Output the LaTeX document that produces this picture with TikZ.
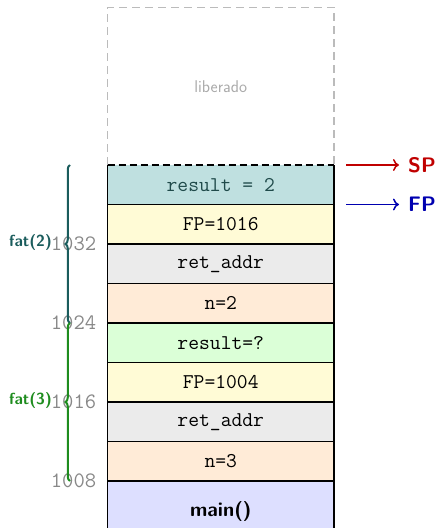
\documentclass[tikz,border=0pt]{standalone}
\usepackage{fontspec}
\usetikzlibrary{arrows.meta,decorations.pathreplacing}

\definecolor{resfill}{HTML}{BFE0E0}
\definecolor{restext}{HTML}{1F4A4A}
\definecolor{fpfill}{HTML}{FFFBD6}
\definecolor{retfill}{HTML}{EBEBEB}
\definecolor{nfill}{HTML}{FFEBD7}
\definecolor{qfill}{HTML}{DBFFD7}
\definecolor{mainfill}{HTML}{DDDFFF}
\definecolor{freedgray}{HTML}{BBBBBB}
\definecolor{freedtext}{HTML}{AAAAAA}
\definecolor{addrgray}{HTML}{888888}
\definecolor{fattwo}{HTML}{1A5C5C}
\definecolor{fatthree}{HTML}{1E8C1E}
\definecolor{spred}{HTML}{C00000}
\definecolor{fpblue}{HTML}{0000B0}

\tikzset{
  cell/.style={rectangle, minimum width=226.5pt, minimum height=39.5pt,
    inner sep=0pt, outer sep=0pt, anchor=north west, line width=1.5pt,
    font=\fontsize{21}{24}\selectfont\ttfamily},
  addr/.style={font=\fontsize{22}{24}\selectfont\ttfamily, text=addrgray, inner sep=0pt},
  fatlabel/.style={font=\fontsize{16}{18}\selectfont\sffamily\bfseries, inner sep=0pt},
  framebrace/.style={decorate, decoration={brace, amplitude=4.5pt}, line width=2pt},
  ptrarrow/.style={line width=1.5pt, -{Computer Modern Rightarrow[length=6pt,width=12pt]}},
  ptrlabel/.style={font=\fontsize{21}{24}\selectfont\sffamily\bfseries, inner sep=0pt, anchor=west},
}

\begin{document}
\begin{tikzpicture}[x=1pt,y=1pt]
\useasboundingbox (0,0) rectangle (436,528);
\clip (0,0) rectangle (436,528);

% released area above the stack pointer
\draw[freedgray, line width=1.5pt, dash pattern=on 8pt off 5pt]
  (107.5,363) -- (107.5,520.5) -- (334,520.5) -- (334,363);
\node[font=\fontsize{17}{19}\selectfont\sffamily, text=freedtext] (freed) at (220.75,441.5) {liberado};

% stack cells, top to bottom
\node[cell, fill=resfill, text=restext] (c1) at (107.5,363) {result = 2};
\draw[line width=1.5pt] (c1.north west) -- (c1.south west) -- (c1.south east) -- (c1.north east);
\draw[line width=1.5pt, dash pattern=on 7pt off 4pt] (c1.north west) -- (c1.north east);
\node[cell, draw, fill=fpfill]  (c2) at (c1.south west) {FP=1016};
\node[cell, draw, fill=retfill] (c3) at (c2.south west) {ret\_addr};
\node[cell, draw, fill=nfill]   (c4) at (c3.south west) {n=2};
\node[cell, draw, fill=qfill]   (c5) at (c4.south west) {result=?};
\node[cell, draw, fill=fpfill]  (c6) at (c5.south west) {FP=1004};
\node[cell, draw, fill=retfill] (c7) at (c6.south west) {ret\_addr};
\node[cell, draw, fill=nfill]   (c8) at (c7.south west) {n=3};
\node[cell, draw, fill=mainfill, minimum height=62pt,
      font=\fontsize{20}{24}\selectfont\sffamily\bfseries] (cmain) at (c8.south west) {main()};

% addresses at the cell boundaries
\node[addr] (a1032) at (73.5,284) {1032};
\node[addr] (a1024) at (73.5,205) {1024};
\node[addr] (a1016) at (73.5,126) {1016};
\node[addr] (a1008) at (73.5,47) {1008};

% frame braces
\coordinate (b2top) at (70,363);
\coordinate (b2bot) at (70,205);
\coordinate (b3bot) at (70,47);
\draw[framebrace, fattwo] (b2bot) -- (b2top);
\draw[framebrace, fatthree] (b3bot) -- (b2bot);
\node[fatlabel, text=fattwo] (f2) at (30.5,285) {fat(2)};
\node[fatlabel, text=fatthree] (f3) at (30.5,127) {fat(3)};

% stack and frame pointers
\node[ptrlabel, text=spred] (sp) at (408,363) {SP};
\node[ptrlabel, text=fpblue] (fp) at (408,323.5) {FP};
\coordinate (spfrom) at (346,363);
\coordinate (fpfrom) at (346,323.5);
\draw[ptrarrow, spred] (spfrom) -- ([xshift=-9pt]sp.west);
\draw[ptrarrow, fpblue] (fpfrom) -- ([xshift=-9pt]fp.west);
\end{tikzpicture}
\end{document}
